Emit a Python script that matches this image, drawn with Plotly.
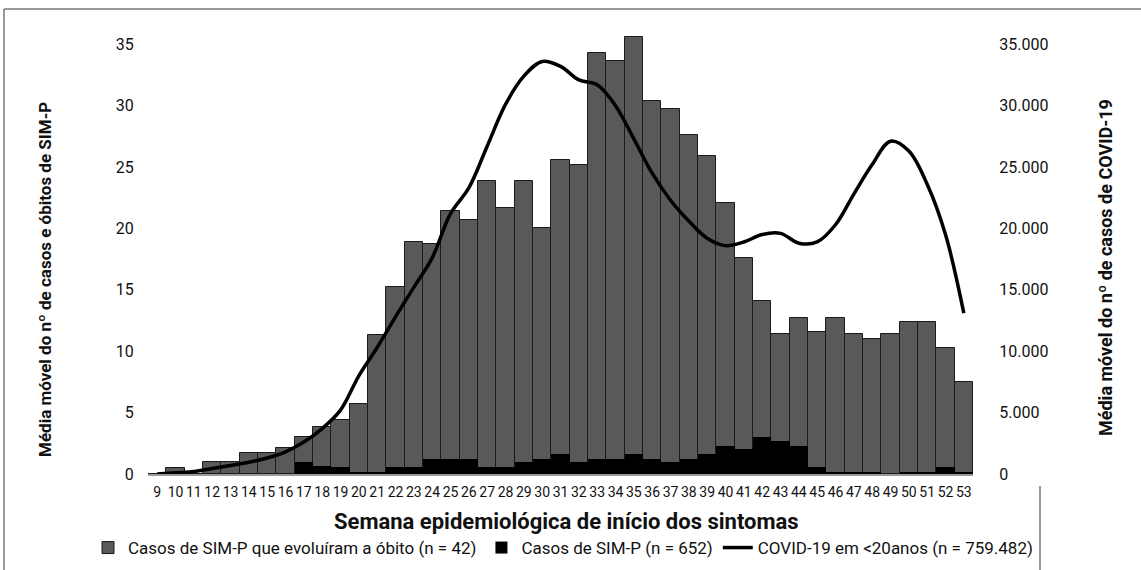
import plotly.graph_objects as go

weeks = list(range(9, 54))
week_labels = [str(w) for w in weeks]

# Gray bars (total height, left axis)
sim_p_obito = [0, 0.5, 0, 1.0, 1.0, 1.7, 1.7, 2.1, 3.0, 3.8, 4.4, 5.7,
               11.3, 15.2, 18.9, 18.7, 21.4, 20.7, 23.9, 21.7, 23.9, 20.0,
               25.6, 25.2, 34.3, 33.6, 35.6, 30.4, 29.7, 27.6, 25.9, 22.1,
               17.6, 14.1, 11.4, 12.7, 11.6, 12.7, 11.4, 11.0, 11.4, 12.4,
               12.4, 10.3, 7.5]

# Black bars (left axis)
sim_p_casos = [0, 0, 0, 0, 0, 0, 0, 0, 1.0, 0.65, 0.55, 0.15,
               0.15, 0.55, 0.55, 1.24, 1.24, 1.24, 0.55, 0.55, 0.96, 1.24,
               1.65, 0.96, 1.24, 1.24, 1.65, 1.24, 0.96, 1.24, 1.65, 2.3,
               2.0, 3.0, 2.67, 2.3, 0.55, 0.15, 0.15, 0.15, 0, 0.15,
               0.15, 0.55, 0.15]

# COVID-19 line (right axis)
covid = [0, 100, 200, 450, 700, 950, 1300, 1800, 2600, 3700, 5200, 8000,
         10300, 12800, 15200, 17600, 21200, 23300, 26700, 30100, 32400, 33600,
         33200, 32100, 31700, 30000, 27300, 24500, 22300, 20600, 19200, 18600,
         18900, 19500, 19600, 18800, 18900, 20300, 22800, 25200, 27100, 26300,
         23600, 19500, 13100]

left_ticks = [0, 5, 10, 15, 20, 25, 30, 35]
right_ticks = [0, 5000, 10000, 15000, 20000, 25000, 30000, 35000]
right_ticktext = ["0", "5.000", "10.000", "15.000", "20.000", "25.000", "30.000", "35.000"]

FONT = "Roboto, Liberation Sans, sans-serif"

fig = go.Figure()
fig.add_trace(go.Bar(
    x=weeks, y=sim_p_obito, name="Casos de SIM-P que evoluíram a óbito (n = 42)",
    marker=dict(color="#595959", line=dict(color="#1a1a1a", width=1)),
    width=1.0,
))
fig.add_trace(go.Bar(
    x=weeks, y=sim_p_casos, name="Casos de SIM-P (n = 652)",
    marker=dict(color="#000000", line=dict(color="#000000", width=0)),
    width=1.0,
))
fig.add_trace(go.Scatter(
    x=weeks, y=covid, name="COVID-19 em <20anos (n = 759.482)", yaxis="y2",
    mode="lines", line=dict(color="#000000", width=3.5, shape="spline", smoothing=1.0),
))

W, H = 1141, 570
L, R, T, B = 148, 973, 32, 474

def px_x(px):
    return (px - L) / (R - L)

def px_y(py):
    return (B - py) / (B - T)

fig.update_layout(
    width=W, height=H,
    margin=dict(l=L, r=W - R, t=T, b=H - B, autoexpand=False),
    paper_bgcolor="white", plot_bgcolor="white",
    barmode="overlay", bargap=0,
    font=dict(family=FONT, size=16, color="#111"),
    xaxis=dict(
        range=[8.5, 53.5], tickmode="array", tickvals=weeks, ticktext=week_labels,
        tickangle=0, showgrid=False, zeroline=False,
        showline=True, linecolor="#9a9a9a", linewidth=1.5,
        ticks="outside", ticklen=4, tickcolor="rgba(0,0,0,0)",
        tickfont=dict(family=FONT, size=14, color="#111"),
    ),
    yaxis=dict(
        range=[0, 36], tickmode="array", tickvals=left_ticks,
        showgrid=False, zeroline=False, showline=False,
        ticks="outside", ticklen=10, tickcolor="rgba(0,0,0,0)",
        tickfont=dict(family=FONT, size=16, color="#111"),
    ),
    yaxis2=dict(
        range=[0, 36000], overlaying="y", side="right", tickmode="array",
        tickvals=right_ticks, ticktext=right_ticktext,
        showgrid=False, zeroline=False, showline=False,
        ticks="outside", ticklen=22, tickcolor="rgba(0,0,0,0)",
        tickfont=dict(family=FONT, size=16, color="#111"),
    ),
    showlegend=True,
    legend=dict(
        orientation="h", xref="paper", yref="paper",
        x=px_x(88), y=px_y(548), xanchor="left", yanchor="middle",
        font=dict(family=FONT, size=17, color="#111"), itemwidth=30,
        traceorder="normal", bgcolor="rgba(0,0,0,0)",
    ),
    annotations=[
        dict(text="<b>Semana epidemiológica de início dos sintomas</b>", xref="paper", yref="paper",
             x=px_x(566), y=px_y(521), showarrow=False, xanchor="center", yanchor="middle",
             font=dict(family=FONT, size=22, color="#111")),
        dict(text="<b>Média móvel do nº de casos e óbitos de SIM-P</b>", xref="paper", yref="paper",
             x=px_x(45), y=px_y(280), showarrow=False, textangle=-90, xanchor="center", yanchor="middle",
             font=dict(family=FONT, size=17, color="#111")),
        dict(text="<b>Média móvel do nº de casos de COVID-19</b>", xref="paper", yref="paper",
             x=px_x(1105), y=px_y(268), showarrow=False, textangle=-90, xanchor="center", yanchor="middle",
             font=dict(family=FONT, size=18, color="#111")),
    ],
    shapes=[
        dict(type="line", xref="paper", yref="paper", x0=px_x(4), x1=px_x(1141), y0=px_y(9), y1=px_y(9),
             line=dict(color="#777", width=1.5)),
        dict(type="line", xref="paper", yref="paper", x0=px_x(4), x1=px_x(4), y0=px_y(9), y1=px_y(570),
             line=dict(color="#777", width=1.5)),
        dict(type="line", xref="paper", yref="paper", x0=px_x(1040), x1=px_x(1040), y0=px_y(486), y1=px_y(570),
             line=dict(color="#777", width=1.5)),
    ],
)

fig.write_html("out.html", config={"displayModeBar": False},
               post_script="document.body.style.margin='0px';")
